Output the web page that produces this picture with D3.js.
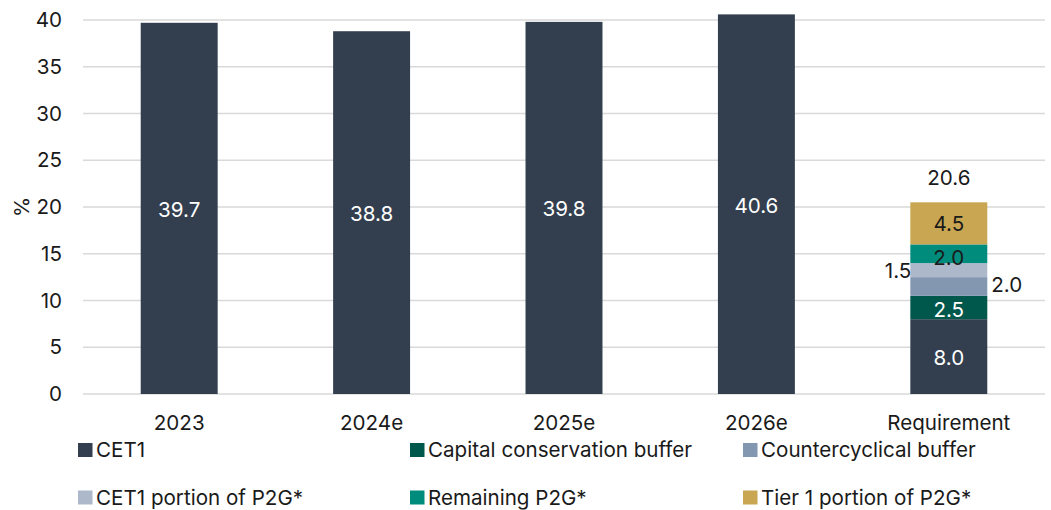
<!DOCTYPE html>
<html><head><meta charset="utf-8">
<script src="https://cdn.jsdelivr.net/npm/d3@7"></script>
<style>body{margin:0;background:#fff;}svg{display:block;font-family:Inter,"Noto Sans",sans-serif;}</style>
</head><body><svg id="c" width="1051" height="510"></svg>
<script>
const categories = ["2023","2024e","2025e","2026e","Requirement"];
const cet1Values = [39.7, 38.8, 39.8, 40.6, 8.0];
const reqSeries = ["Capital conservation buffer","Countercyclical buffer","CET1 portion of P2G*","Remaining P2G*","Tier 1 portion of P2G*"];
const reqValues = [2.5, 2.0, 1.5, 2.0, 4.5];
const reqTotalLabel = "20.6";
const yTicks = [0,5,10,15,20,25,30,35,40];
const legendNames = ["CET1","Capital conservation buffer","Countercyclical buffer","CET1 portion of P2G*","Remaining P2G*","Tier 1 portion of P2G*"];
const colors = ["#333f4f","#00574b","#8497b0","#adb9ca","#008c7d","#c9a752"];

const FS = 20.6;
const svg = d3.select("#c");
const x = d3.scaleBand().domain(categories).range([83,1045]).paddingInner(0.6).paddingOuter(0.3);
const y = d3.scaleLinear().domain([0,40]).range([394,20]);

// gridlines
svg.append("g").selectAll("line").data(yTicks).join("line")
  .attr("x1",83).attr("x2",1045).attr("y1",d=>y(d)).attr("y2",d=>y(d))
  .attr("stroke","#d9d9d9").attr("stroke-width",1.5);

// y axis
const ya = svg.append("g").attr("transform","translate(70,0)")
  .call(d3.axisLeft(y).tickValues(yTicks).tickSize(0).tickPadding(0));
ya.select(".domain").remove();
ya.selectAll("text").attr("font-size",FS).attr("fill","#1a1a1a").attr("font-family","Inter,'Noto Sans',sans-serif").attr("dx",-8);

svg.append("text").attr("transform","translate(29,"+y(20)+") rotate(-90)")
  .attr("text-anchor","middle").attr("font-size",FS).attr("fill","#1a1a1a").text("%");

// x axis
const xa = svg.append("g").attr("transform","translate(0,"+y(0)+")")
  .call(d3.axisBottom(x).tickSize(0).tickPadding(21));
xa.select(".domain").remove();
xa.selectAll("text").attr("font-size",FS).attr("fill","#1a1a1a").attr("font-family","Inter,'Noto Sans',sans-serif");

// CET1 bars
svg.append("g").selectAll("rect").data(categories).join("rect")
  .attr("x",d=>x(d)).attr("width",x.bandwidth())
  .attr("y",(d,i)=>y(cet1Values[i])).attr("height",(d,i)=>y(0)-y(cet1Values[i]))
  .attr("fill",colors[0]);

svg.append("g").selectAll("text").data(categories).join("text")
  .attr("x",d=>x(d)+x.bandwidth()/2).attr("y",(d,i)=>y(cet1Values[i]/2)+8.5)
  .attr("text-anchor","middle").attr("font-size",FS).attr("fill","#fff")
  .text((d,i)=>cet1Values[i].toFixed(1));

// requirement stack
const req = "Requirement";
let base = cet1Values[4];
const segs = reqValues.map((v,i)=>{const s={v,i,y0:base,y1:base+v};base+=v;return s;});
svg.append("g").selectAll("rect").data(segs).join("rect")
  .attr("x",x(req)).attr("width",x.bandwidth())
  .attr("y",d=>y(d.y1)).attr("height",d=>y(d.y0)-y(d.y1))
  .attr("fill",d=>colors[d.i+1]);

const cx = x(req)+x.bandwidth()/2;
const labelPos = [
  {dx:0, anchor:"middle", fill:"#fff", dy:9},
  {dx:x.bandwidth()/2+4, anchor:"start", fill:"#1a1a1a", dy:6},
  {dx:-x.bandwidth()/2+1, anchor:"end", fill:"#1a1a1a", dy:8},
  {dx:0, anchor:"middle", fill:"#1a1a1a", dy:11},
  {dx:0, anchor:"middle", fill:"#1a1a1a", dy:8}
];
svg.append("g").selectAll("text").data(segs).join("text")
  .attr("x",d=>cx+labelPos[d.i].dx).attr("y",d=>y((d.y0+d.y1)/2)+labelPos[d.i].dy)
  .attr("text-anchor",d=>labelPos[d.i].anchor).attr("font-size",FS).attr("fill",d=>labelPos[d.i].fill)
  .text(d=>d.v.toFixed(1));
svg.append("text").attr("x",cx).attr("y",y(base)-17).attr("text-anchor","middle")
  .attr("font-size",FS).attr("fill","#1a1a1a").text(reqTotalLabel);

// legend
const lg = svg.append("g").selectAll("g").data(legendNames).join("g")
  .attr("transform",(d,i)=>"translate("+[78,410,743][i%3]+","+(i<3?450:497.5)+")");
lg.append("rect").attr("x",0).attr("y",-7).attr("width",14.5).attr("height",14).attr("fill",(d,i)=>colors[i]);
lg.append("text").attr("x",18).attr("y",7).attr("font-size",FS).attr("fill","#1a1a1a").text(d=>d);
</script></body></html>
